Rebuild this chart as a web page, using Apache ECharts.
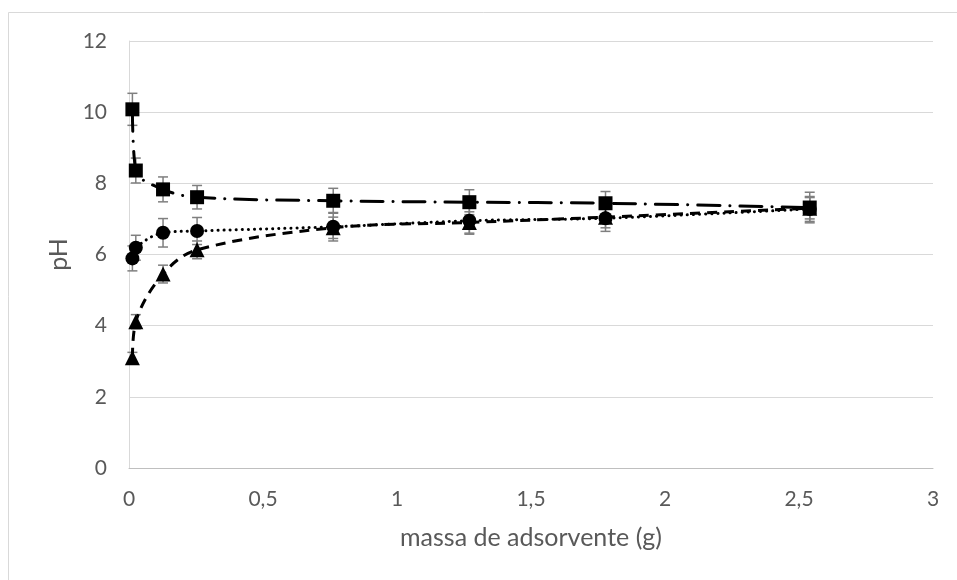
<!DOCTYPE html>
<html><head><meta charset="utf-8">
<script src="https://cdn.jsdelivr.net/npm/echarts@6/dist/echarts.min.js"></script>
<style>html,body{margin:0;padding:0;background:#fff}#c{width:957px;height:580px}</style>
</head><body><div id="c"></div>
<script>
const xVals = [0.0127, 0.0254, 0.127, 0.254, 0.762, 1.27, 1.778, 2.54];
const squares = [10.08, 8.36, 7.83, 7.61, 7.51, 7.47, 7.44, 7.32];
const squaresErr = [0.45, 0.35, 0.35, 0.33, 0.35, 0.35, 0.33, 0.43];
const circles = [5.89, 6.19, 6.61, 6.66, 6.78, 6.95, 7.02, 7.28];
const circlesErr = [0.35, 0.35, 0.4, 0.38, 0.4, 0.38, 0.37, 0.35];
const triangles = [3.1, 4.11, 5.45, 6.13, 6.75, 6.9, 7.05, 7.3];
const trianglesErr = [0.15, 0.2, 0.25, 0.25, 0.3, 0.3, 0.3, 0.3];
const xTickLabels = ['0', '0,5', '1', '1,5', '2', '2,5', '3'];
const yTickLabels = ['0', '2', '4', '6', '8', '10', '12'];
const xAxisName = 'massa de adsorvente (g)';
const yAxisName = 'pH';

const FONT = 'Lato';
const pts = (ys) => xVals.map((x, i) => [x, ys[i]]);
const errData = (ys, es) => xVals.map((x, i) => [x, ys[i] - es[i], ys[i] + es[i]]);

function errSeries(ys, es) {
  return {
    type: 'custom', z: 1, silent: true,
    data: errData(ys, es),
    renderItem: function (params, api) {
      const x = api.value(0);
      const lo = api.coord([x, api.value(1)]);
      const hi = api.coord([x, api.value(2)]);
      const w = 5;
      const st = { stroke: '#7f7f7f', lineWidth: 1.5 };
      return {
        type: 'group', children: [
          { type: 'line', shape: { x1: lo[0], y1: lo[1], x2: hi[0], y2: hi[1] }, style: st },
          { type: 'line', shape: { x1: lo[0] - w, y1: lo[1], x2: lo[0] + w, y2: lo[1] }, style: st },
          { type: 'line', shape: { x1: hi[0] - w, y1: hi[1], x2: hi[0] + w, y2: hi[1] }, style: st }
        ]
      };
    }
  };
}

function lineSeries(ys, symbol, size, dash, cap) {
  return {
    type: 'line', z: 3, data: pts(ys), smooth: 0.35,
    symbol: symbol, symbolSize: size, showSymbol: true,
    itemStyle: { color: '#000', borderWidth: 0 },
    lineStyle: { color: '#000', width: 3, type: dash, cap: cap },
    emphasis: { disabled: true }
  };
}

const chart = echarts.init(document.getElementById('c'), null, { renderer: 'canvas' });
chart.setOption({
  animation: false,
  backgroundColor: '#fff',
  graphic: [{
    type: 'rect', z: -10, silent: true,
    shape: { x: 8.5, y: 12.5, width: 1000, height: 700 },
    style: { fill: 'none', stroke: '#d9d9d9', lineWidth: 1 }
  }],
  grid: { left: 129, right: 24, top: 41, bottom: 112, containLabel: false },
  xAxis: {
    type: 'value', min: 0, max: 3, interval: 0.5,
    name: xAxisName, nameLocation: 'middle', nameGap: 57,
    nameTextStyle: { color: '#595959', fontSize: 25, fontFamily: FONT },
    axisLine: { show: true, lineStyle: { color: '#bfbfbf', width: 1 } },
    axisTick: { show: false },
    splitLine: { show: false },
    axisLabel: {
      color: '#595959', fontSize: 21, fontFamily: FONT, margin: 21,
      formatter: (v) => xTickLabels[Math.round(v / 0.5)]
    }
  },
  yAxis: {
    type: 'value', min: 0, max: 12, interval: 2,
    name: yAxisName, nameLocation: 'middle', nameGap: 50, nameRotate: 90,
    nameTextStyle: { color: '#595959', fontSize: 25, fontFamily: FONT },
    axisLine: { show: true, lineStyle: { color: '#d9d9d9', width: 1 } },
    axisTick: { show: false },
    splitLine: { show: true, lineStyle: { color: '#d9d9d9', width: 1 } },
    axisLabel: {
      color: '#595959', fontSize: 21, fontFamily: FONT, margin: 22,
      formatter: (v) => yTickLabels[Math.round(v / 2)]
    }
  },
  series: [
    errSeries(squares, squaresErr),
    errSeries(circles, circlesErr),
    errSeries(triangles, trianglesErr),
    lineSeries(triangles, 'triangle', 15, [10, 7], 'butt'),
    lineSeries(circles, 'circle', 14, [0.1, 6], 'round'),
    lineSeries(squares, 'rect', 14, [22, 10, 0.1, 10], 'round')
  ]
});
</script></body></html>
